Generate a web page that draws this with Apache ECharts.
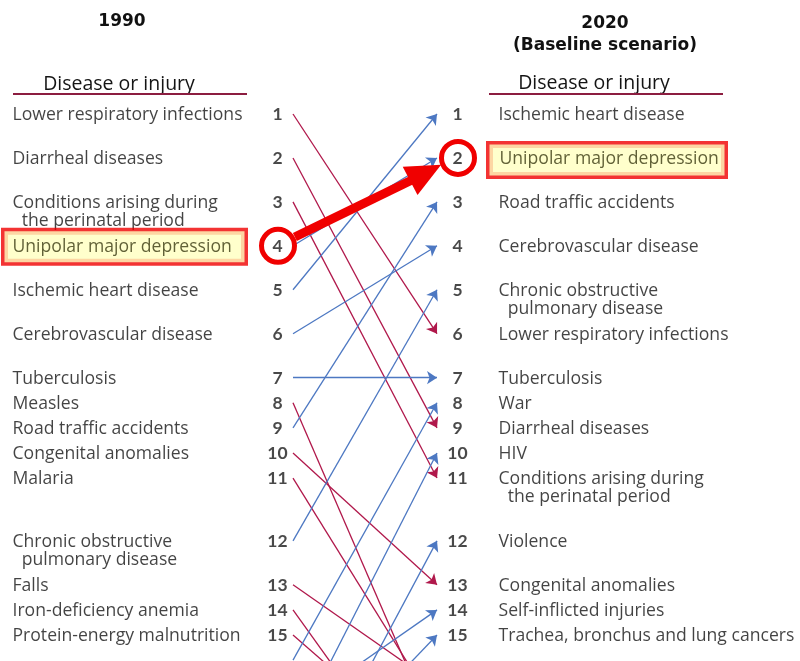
<!DOCTYPE html>
<html><head><meta charset="utf-8">
<script src="https://cdn.jsdelivr.net/npm/echarts@6/dist/echarts.min.js"></script>
<style>html,body{margin:0;padding:0;background:#fff}#c{width:800px;height:661px}</style>
</head><body><div id="c"></div>
<script>
// ---- data ----
const causes = [
  'Lower respiratory infections', 'Diarrheal diseases', 'Conditions arising during\n  the perinatal period',
  'Unipolar major depression', 'Ischemic heart disease', 'Cerebrovascular disease', 'Tuberculosis',
  'Measles', 'Road traffic accidents', 'Congenital anomalies', 'Malaria',
  'Chronic obstructive\n  pulmonary disease', 'Falls', 'Iron-deficiency anemia', 'Protein-energy malnutrition',
  'War', 'HIV', 'Violence', 'Self-inflicted injuries', 'Trachea, bronchus and lung cancers'
];
const rank1990 = [1, 2, 3, 4, 5, 6, 7, 8, 9, 10, 11, 12, 13, 14, 15, 16, 19, 22, 18, 21];
const rank2020 = [6, 9, 11, 2, 1, 4, 7, 19, 3, 13, 18, 5, 17, 22, 20, 8, 10, 12, 14, 15];
const highlightCause = 'Unipolar major depression';
const shownRanks = 15;
const yearLabels = ['1990', '2020\n(Baseline scenario)'];
const columnHeader = 'Disease or injury';

// ---- layout (vertical slot of each rank row, in text-line units) ----
const rowSlot = [0, 1.75, 3.5, 5.25, 7, 8.75, 10.5, 11.5, 12.5, 13.5, 14.5, 17, 18.75, 19.75, 20.75];
function slot(r) { return r <= shownRanks ? rowSlot[r - 1] : rowSlot[shownRanks - 1] + (r - shownRanks); }

const RED = '#b0184b', BLUE = '#4d78c2', HI = '#f00000';
const NAME_FONT = 'Open Sans';
const NAME_SIZE = 17.6;

const chart = echarts.init(document.getElementById('c'), null, {renderer: 'canvas'});

const moves = causes.map((c, i) => ({
  name: c,
  coords: [[0, slot(rank1990[i])], [1, slot(rank2020[i])]],
  lineStyle: {color: rank2020[i] > rank1990[i] ? RED : BLUE}
}));

function colItems(ranks) {
  return causes.map((c, i) => ({c, r: ranks[i]})).filter(d => d.r <= shownRanks).sort((a, b) => a.r - b.r);
}
const left = colItems(rank1990), right = colItems(rank2020);

function nameData(items, x, box) {
  return items.map(d => {
    const item = {name: d.c, value: [x, slot(d.r)]};
    if (d.c === highlightCause) {
      item.label = {
        position: box.pos, backgroundColor: '#ffffbf', borderColor: HI, borderWidth: 3.5,
        padding: box.pad, width: box.w, color: '#3a3a12'
      };
    }
    return item;
  });
}
function numData(items, x) {
  return items.map(d => ({name: String(d.r), value: [x, slot(d.r)]}));
}

const nameLabel = (dx) => ({
  show: true, position: [dx, -7.5], align: 'left', verticalAlign: 'top',
  fontFamily: NAME_FONT, fontSize: NAME_SIZE, lineHeight: 18, color: '#141414', formatter: p => p.name
});
const numLabel = (dx) => ({
  show: true, position: [dx, 1], align: 'center', verticalAlign: 'middle',
  fontFamily: 'Lato', fontWeight: 'bold', fontSize: 17.5, color: '#1a1a1a', formatter: p => p.name
});

const hiIdx = causes.indexOf(highlightCause);

chart.setOption({
  animation: false,
  grid: {left: 293, right: 363, top: 114, bottom: 26},
  xAxis: {type: 'value', min: 0, max: 1, show: false},
  yAxis: {type: 'value', min: 0, max: rowSlot[shownRanks - 1], inverse: true, show: false},
  graphic: [
    {type: 'text', x: 122, y: 22, style: {text: yearLabels[0], align: 'center', verticalAlign: 'middle', font: 'bold 17px "DejaVu Sans"', fill: '#111'}},
    {type: 'text', x: 605, y: 34.5, style: {text: yearLabels[1], align: 'center', verticalAlign: 'middle', font: 'bold 17px "DejaVu Sans"', lineHeight: 22, fill: '#111'}},
    {type: 'text', x: 119, y: 84, style: {text: columnHeader, align: 'center', verticalAlign: 'middle', font: '19.5px "' + NAME_FONT + '"', fill: '#141414'}},
    {type: 'text', x: 594, y: 83, style: {text: columnHeader, align: 'center', verticalAlign: 'middle', font: '19.5px "' + NAME_FONT + '"', fill: '#141414'}},
    {type: 'line', shape: {x1: 13, y1: 94, x2: 247, y2: 94}, style: {stroke: '#8c1d40', lineWidth: 2}},
    {type: 'line', shape: {x1: 489, y1: 94, x2: 723, y2: 94}, style: {stroke: '#8c1d40', lineWidth: 2}}
  ],
  series: [
    {
      type: 'lines', coordinateSystem: 'cartesian2d', clip: false, z: 2,
      symbol: ['none', 'arrow'], symbolSize: 10,
      lineStyle: {width: 1.3, opacity: 1},
      data: moves
    },
    {
      type: 'custom', coordinateSystem: 'cartesian2d', clip: false, z: 5,
      data: [[rank1990[hiIdx], rank2020[hiIdx]]],
      renderItem: function (params, api) {
        const p0 = api.coord([0, slot(api.value(0))]);
        const p1 = api.coord([1, slot(api.value(1))]);
        const c0 = [p0[0] - 15, p0[1]], c1 = [p1[0] + 21, p1[1]];
        const dx = c1[0] - c0[0], dy = c1[1] - c0[1] - 6, L = Math.hypot(dx, dy);
        const u = [dx / L, dy / L], n = [-u[1], u[0]];
        const R = 19;
        const s = [c0[0] + u[0] * R, c0[1] + u[1] * R];
        const t = [c1[0] - u[0] * R, c1[1] - 2 - u[1] * R];
        const hl = 35, hw = 16;
        const b = [t[0] - u[0] * hl, t[1] - u[1] * hl];
        return {type: 'group', children: [
          {type: 'line', shape: {x1: s[0], y1: s[1], x2: b[0] + u[0] * 2, y2: b[1] + u[1] * 2}, style: {stroke: HI, lineWidth: 9}},
          {type: 'polygon', shape: {points: [t, [b[0] + n[0] * hw, b[1] + n[1] * hw], [b[0] - n[0] * hw, b[1] - n[1] * hw]]}, style: {fill: HI}},
          {type: 'circle', shape: {cx: c0[0], cy: c0[1], r: 16.5}, style: {fill: '#fff', stroke: HI, lineWidth: 5}},
          {type: 'circle', shape: {cx: c1[0], cy: c1[1], r: 16.5}, style: {fill: '#fff', stroke: HI, lineWidth: 5}}
        ]};
      }
    },
    {
      type: 'scatter', z: 10, symbolSize: 1, itemStyle: {color: 'rgba(0,0,0,0)'}, silent: true,
      label: numLabel(-15), data: numData(left, 0)
    },
    {
      type: 'scatter', z: 10, symbolSize: 1, itemStyle: {color: 'rgba(0,0,0,0)'}, silent: true,
      label: numLabel(21), data: numData(right, 1)
    },
    {
      type: 'scatter', z: 10, symbolSize: 1, itemStyle: {color: 'rgba(0,0,0,0)'}, silent: true,
      label: nameLabel(-280),
      data: nameData(left, 0, {pos: [-288, -14], pad: [6.5, 6, 6.5, 8], w: 226})
    },
    {
      type: 'scatter', z: 10, symbolSize: 1, itemStyle: {color: 'rgba(0,0,0,0)'}, silent: true,
      label: nameLabel(62),
      data: nameData(right, 1, {pos: [53, -13], pad: [5.5, 6, 7.5, 10], w: 219})
    }
  ]
});
</script></body></html>
